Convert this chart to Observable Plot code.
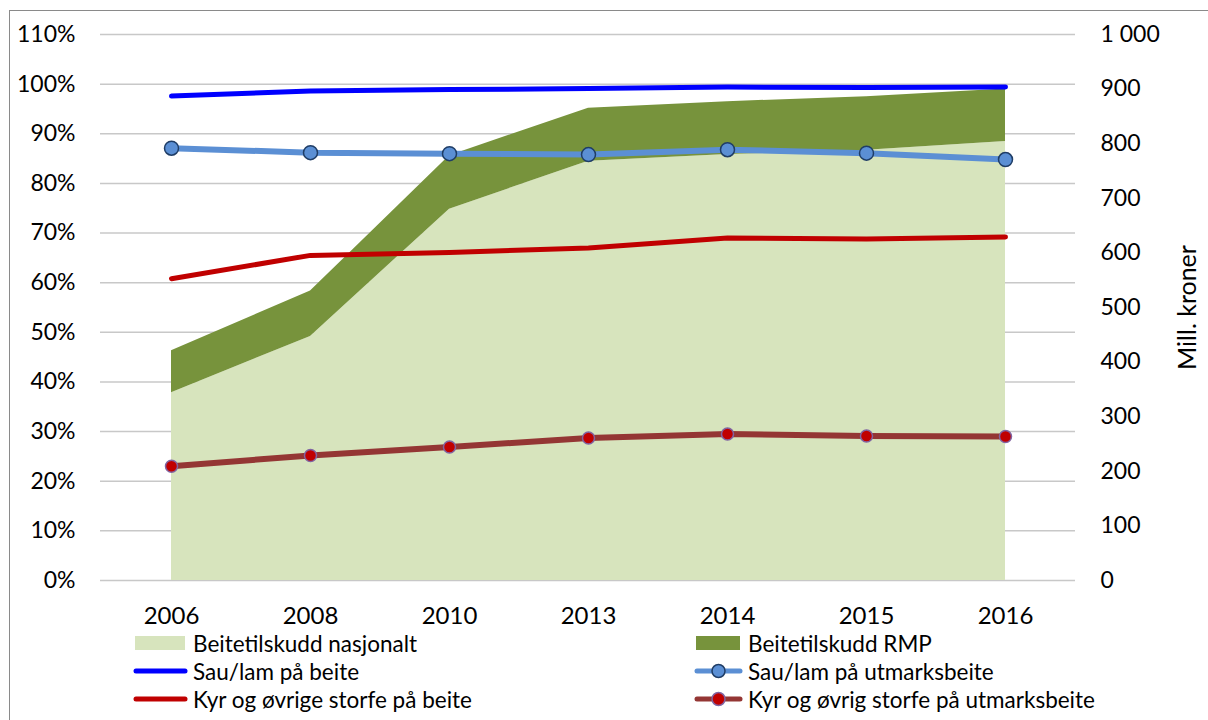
<!DOCTYPE html>
<html><head><meta charset="utf-8">
<script src="https://cdn.jsdelivr.net/npm/d3@7"></script>
<script src="https://cdn.jsdelivr.net/npm/@observablehq/plot@0.6"></script>
<style>
body{margin:0;background:#fff;font-family:Lato,"Open Sans",sans-serif;}
#frame{position:absolute;left:9px;top:10px;width:1220px;height:730px;border:1.5px solid #8a8a8a;box-sizing:border-box;}
#chart{position:absolute;left:0;top:0;}
.leg{position:absolute;font-size:22.5px;color:#000;display:flex;align-items:center;height:26px;white-space:nowrap;}
.leg svg{margin-right:4px;}
</style></head><body>
<div id="frame"></div>
<div id="chart"></div>
<div id="legend"></div>
<script>
const years = ["2006","2008","2010","2013","2014","2015","2016"];
const nasjonalt = [344, 447, 680, 768, 780, 788, 804];   // Mill. kroner
const rmp = [77, 83, 98, 97, 97, 98, 96];                 // Mill. kroner (stacked on top)
const sauBeite = [97.6, 98.6, 98.9, 99.1, 99.4, 99.3, 99.4];
const sauUtmark = [87.1, 86.2, 86.0, 85.8, 86.8, 86.1, 84.8];
const kyrBeite = [60.8, 65.5, 66.1, 67.0, 69.0, 68.8, 69.2];
const kyrUtmark = [23.0, 25.2, 26.9, 28.7, 29.5, 29.1, 29.0];
const leftTicks = [0,10,20,30,40,50,60,70,80,90,100,110];
const rightTicks = [0,100,200,300,400,500,600,700,800,900,1000];
const K = 110/1000; // kroner -> percent-axis units

const rows = years.map((y,i)=>({
  year:y,
  n: nasjonalt[i]*K,
  t: (nasjonalt[i]+rmp[i])*K,
  sb: sauBeite[i], su: sauUtmark[i], kb: kyrBeite[i], ku: kyrUtmark[i]
}));

const fmtK = d => { const v = Math.round(d/K); return v>=1000 ? String(v).replace(/\B(?=(\d{3})+(?!\d))/g," ") : String(v); };

const plot = Plot.plot({
  width: 1208, height: 628,
  marginLeft: 100, marginRight: 133, marginTop: 34, marginBottom: 48,
  style: {fontFamily: "Lato, 'Open Sans', sans-serif", fontSize: "23px", color: "#000", background: "transparent"},
  x: {type: "point", domain: years, padding: 0.5},
  y: {domain: [0,110]},
  marks: [
    Plot.ruleY(leftTicks, {stroke: "#c8c8c8", strokeWidth: 1.5}),
    Plot.areaY(rows, {x: "year", y1: 0, y2: "n", fill: "#d7e4bd"}),
    Plot.areaY(rows, {x: "year", y1: "n", y2: "t", fill: "#77933c"}),
    Plot.line(rows, {x: "year", y: "sb", stroke: "#0000ff", strokeWidth: 5, strokeLinecap: "round"}),
    Plot.line(rows, {x: "year", y: "su", stroke: "#5b8fd4", strokeWidth: 6, strokeLinecap: "round"}),
    Plot.dot(rows, {x: "year", y: "su", r: 7, fill: "#5b8fd4", stroke: "#1f3d66", strokeWidth: 1.5}),
    Plot.line(rows, {x: "year", y: "kb", stroke: "#c00000", strokeWidth: 5, strokeLinecap: "round"}),
    Plot.line(rows, {x: "year", y: "ku", stroke: "#943634", strokeWidth: 6, strokeLinecap: "round"}),
    Plot.dot(rows, {x: "year", y: "ku", r: 6, fill: "#c00000", stroke: "#8064a2", strokeWidth: 1.5}),
    Plot.axisY(leftTicks, {anchor: "left", tickSize: 0, tickPadding: 25, tickFormat: d => d + "%", label: null}),
    Plot.axisY(rightTicks.map(k => k*K), {anchor: "right", tickSize: 0, tickPadding: 25, textAnchor: "start", tickFormat: fmtK, label: null}),
    Plot.axisX({anchor: "bottom", tickSize: 0, tickPadding: 26, fontSize: 24, label: null}),
    Plot.text(["Mill. kroner"], {frameAnchor: "right", textAnchor: "middle", dx: 112, dy: 0, rotate: -90, fontSize: 25, fill: "#000"})
  ]
});
document.getElementById("chart").appendChild(plot);

const legendItems = [
  {label: "Beitetilskudd nasjonalt", type: "rect", color: "#d7e4bd", col: 0, row: 0},
  {label: "Beitetilskudd RMP", type: "rect", color: "#77933c", col: 1, row: 0},
  {label: "Sau/lam på beite", type: "line", color: "#0000ff", col: 0, row: 1},
  {label: "Sau/lam på utmarksbeite", type: "linedot", color: "#5b8fd4", dot: "#5b8fd4", dotStroke: "#1f3d66", col: 1, row: 1},
  {label: "Kyr og øvrige storfe på beite", type: "line", color: "#c00000", col: 0, row: 2},
  {label: "Kyr og øvrig storfe på utmarksbeite", type: "linedot", color: "#943634", dot: "#c00000", dotStroke: "#8064a2", col: 1, row: 2}
];
const colX = [133, 694];
const rowY = [630, 658, 686];
const leg = document.getElementById("legend");
legendItems.forEach(it => {
  const d = document.createElement("div");
  d.className = "leg";
  d.style.left = colX[it.col] + "px";
  d.style.top = rowY[it.row] + "px";
  const w = it.col === 0 ? 56 : 50;
  let sw = `<svg width="${w}" height="20">`;
  if (it.type === "rect") sw += `<rect x="2" y="3" width="${w-6}" height="14" fill="${it.color}"/>`;
  else {
    sw += `<line x1="3" y1="10" x2="${w-4}" y2="10" stroke="${it.color}" stroke-width="5" stroke-linecap="round"/>`;
    if (it.type === "linedot") sw += `<circle cx="${(w-1)/2}" cy="10" r="6.5" fill="${it.dot}" stroke="${it.dotStroke}" stroke-width="1.5"/>`;
  }
  sw += `</svg>`;
  d.innerHTML = sw + `<span>${it.label}</span>`;
  leg.appendChild(d);
});
</script>
</body></html>
